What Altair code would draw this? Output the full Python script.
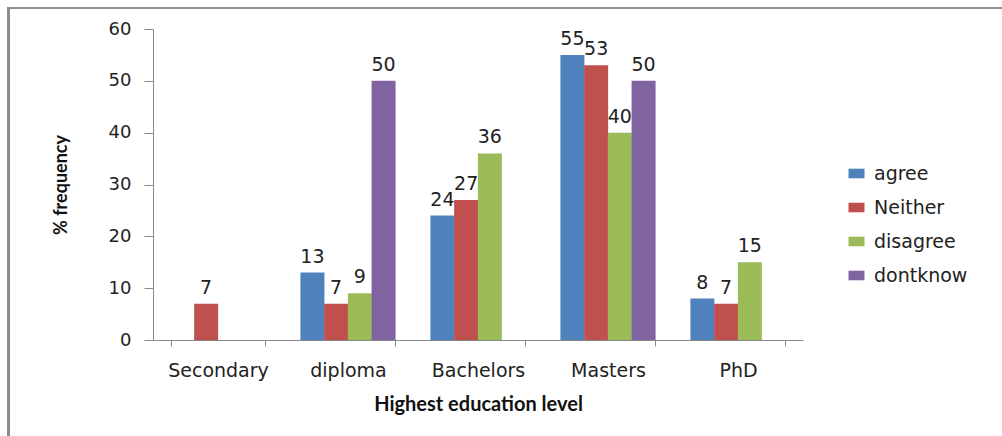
import altair as alt
import pandas as pd

categories = ["Secondary", "diploma", "Bachelors", "Masters", "PhD"]
series = ["agree", "Neither", "disagree", "dontknow"]
agree = [None, 13, 24, 55, 8]
neither = [7, 7, 27, 53, 7]
disagree = [None, 9, 36, 40, 15]
dontknow = [None, 50, None, 50, None]
colors = ["#4F81BD", "#C0504D", "#9BBB59", "#8064A2"]

rows = []
for s, vals in zip(series, [agree, neither, disagree, dontknow]):
    for c, v in zip(categories, vals):
        if v is not None:
            rows.append({"level": c, "resp": s, "value": v})
df = pd.DataFrame(rows)

W, H = 650, 311
LEFT, TOP = 153, 29

x = alt.X("level:N", sort=categories, title="Highest education level",
          scale=alt.Scale(domain=categories, paddingInner=0.27, paddingOuter=0.135),
          axis=alt.Axis(labelAngle=0, tickBand="extent", tickSize=6, labelPadding=15,
                        labelFont="DejaVu Sans", labelFontSize=19, labelColor="#222",
                        titleFont="Lato", titleFontWeight="bold", titleFontSize=20,
                        titleColor="#111", titlePadding=14,
                        domainColor="#8a8a8a", tickColor="#8a8a8a", grid=False))
xo = alt.XOffset("resp:N", sort=series, scale=alt.Scale(domain=series, paddingInner=0, paddingOuter=0))
y = alt.Y("value:Q", title="% frequency",
          scale=alt.Scale(domain=[0, 60], nice=False),
          axis=alt.Axis(values=[0, 10, 20, 30, 40, 50, 60], tickSize=9, labelPadding=13,
                        labelFont="DejaVu Sans", labelFontSize=18, labelColor="#222",
                        titleFont="Lato", titleFontWeight="bold", titleFontSize=18,
                        titleColor="#111", titlePadding=38,
                        domainColor="#8a8a8a", tickColor="#8a8a8a", grid=False))
color = alt.Color("resp:N", sort=series, title=None,
                  scale=alt.Scale(domain=series, range=colors),
                  legend=alt.Legend(orient="none", legendX=694, legendY=135,
                                    symbolType="M-1,-0.6H1V0.6H-1Z", symbolSize=256,
                                    symbolStrokeWidth=0, labelFont="DejaVu Sans",
                                    labelFontSize=19, labelColor="#222", labelOffset=8,
                                    rowPadding=14, padding=0))

bars = alt.Chart(df).mark_bar(size=24).encode(x=x, xOffset=xo, y=y, color=color)
labels = alt.Chart(df).mark_text(baseline="bottom", dy=-6, font="DejaVu Sans",
                                 fontSize=19, color="#222").encode(
    x=x, xOffset=xo, y=y, text=alt.Text("value:Q"))

border_v = alt.Chart(df).mark_rule(color="#8c8c8c", strokeWidth=2.5).encode(
    x=alt.value(8.5 - LEFT), y=alt.value(7 - TOP), y2=alt.value(460 - TOP))
border_h = alt.Chart(df).mark_rule(color="#8c8c8c", strokeWidth=2).encode(
    x=alt.value(7 - LEFT), x2=alt.value(1010 - LEFT), y=alt.value(8 - TOP))

chart = alt.layer(bars, labels, border_v, border_h).properties(
    width=W, height=H,
    autosize=alt.AutoSizeParams(type="none"),
    padding={"left": LEFT, "top": TOP, "right": 1002 - LEFT - W, "bottom": 436 - TOP - H},
    background="white",
).configure_view(stroke=None)

chart.save("out.html", embed_options={"renderer": "svg", "actions": False})
